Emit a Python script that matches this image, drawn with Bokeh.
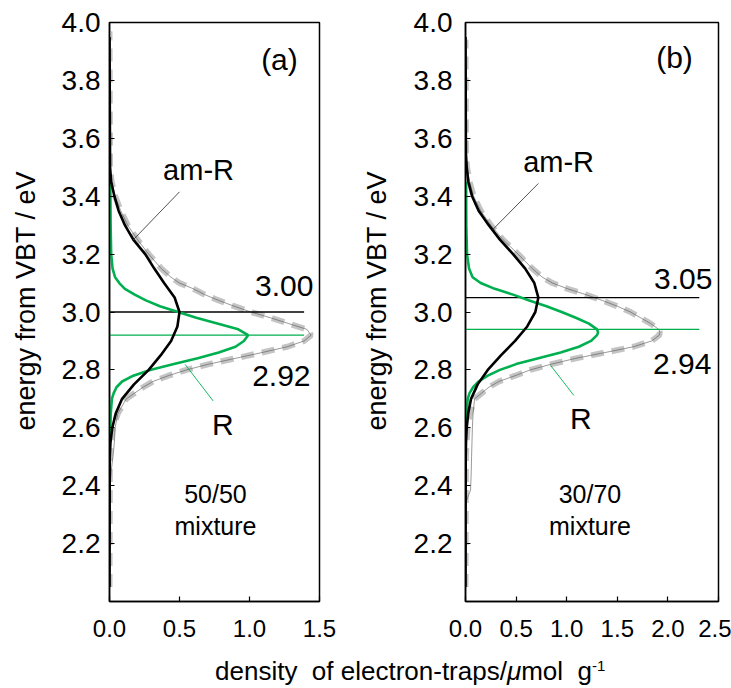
from bokeh.plotting import figure
from bokeh.layouts import row, column
from bokeh.models import FixedTicker, PrintfTickFormatter, Div, Label
from bokeh.embed import file_html
from bokeh.resources import INLINE

FONT = "Liberation Sans"
GREEN = "#00b050"
GREY = "#c4c4c4"

# ---------------- data: (a) 50/50 mixture ----------------
X_TICKS_A = [0.0, 0.5, 1.0, 1.5]
Y_TICKS = [2.2, 2.4, 2.6, 2.8, 3.0, 3.2, 3.4, 3.6, 3.8, 4.0]

# fitted total (sum of components)
SUM_A_E = [2.05, 2.50, 2.55, 2.60, 2.65, 2.70, 2.72, 2.74, 2.76, 2.78, 2.80, 2.82, 2.84,
           2.86, 2.88, 2.90, 2.92, 2.94, 2.96, 2.98, 3.00, 3.02, 3.04, 3.06, 3.08, 3.10,
           3.12, 3.15, 3.20, 3.25, 3.30, 3.35, 3.40, 3.45, 3.50, 3.97]
SUM_A_D = [0.0, 0.003, 0.01, 0.025, 0.06, 0.12, 0.18, 0.24, 0.31, 0.42, 0.55, 0.71, 0.90,
           1.09, 1.27, 1.39, 1.44, 1.41, 1.28, 1.15, 1.01, 0.89, 0.78, 0.68, 0.60, 0.50,
           0.44, 0.37, 0.28, 0.20, 0.13, 0.08, 0.04, 0.015, 0.004, 0.0]
# measured ERDT
MEAS_A_E = [2.05, 2.35, 2.40, 2.45, 2.50, 2.55, 2.60, 2.65, 2.70, 2.72, 2.74, 2.76, 2.78,
            2.80, 2.82, 2.84, 2.86, 2.88, 2.90, 2.92, 2.94, 2.96, 2.98, 3.00, 3.02, 3.04,
            3.06, 3.08, 3.10, 3.12, 3.15, 3.20, 3.25, 3.30, 3.35, 3.40, 3.45, 3.50, 3.97]
MEAS_A_D = [0.0, 0.0, 0.004, 0.012, 0.025, 0.035, 0.04, 0.06, 0.12, 0.18, 0.24, 0.31, 0.42,
            0.55, 0.71, 0.90, 1.09, 1.27, 1.39, 1.44, 1.41, 1.28, 1.15, 1.01, 0.89, 0.78,
            0.68, 0.60, 0.50, 0.44, 0.37, 0.28, 0.20, 0.13, 0.08, 0.04, 0.015, 0.004, 0.0]
# am-R component
AMR_A_E = [2.05, 2.50, 2.55, 2.60, 2.65, 2.70, 2.75, 2.80, 2.85, 2.90, 2.95, 3.00, 3.05,
           3.10, 3.15, 3.20, 3.25, 3.30, 3.35, 3.40, 3.45, 3.50, 3.95]
AMR_A_D = [0.0, 0.002, 0.007, 0.02, 0.045, 0.09, 0.175, 0.28, 0.365, 0.44, 0.485, 0.50, 0.465,
           0.39, 0.32, 0.255, 0.17, 0.11, 0.065, 0.035, 0.012, 0.004, 0.0]
# R component
R_A_E = [2.57, 2.60, 2.65, 2.70, 2.72, 2.74, 2.76, 2.78, 2.80, 2.82, 2.84, 2.86, 2.88, 2.90,
         2.92, 2.94, 2.96, 2.98, 3.00, 3.02, 3.04, 3.06, 3.08, 3.10, 3.12, 3.15, 3.20, 3.30, 3.45]
R_A_D = [0.004, 0.006, 0.009, 0.017, 0.03, 0.05, 0.09, 0.17, 0.29, 0.46, 0.63, 0.78, 0.90, 0.96,
         0.99, 0.92, 0.77, 0.62, 0.49, 0.36, 0.26, 0.18, 0.11, 0.07, 0.04, 0.022, 0.012, 0.008, 0.006]
PEAK_AMR_A = 3.00
PEAK_R_A = 2.92

# ---------------- data: (b) 30/70 mixture ----------------
X_TICKS_B = [0.0, 0.5, 1.0, 1.5, 2.0, 2.5]

SUM_B_E = [2.05, 2.50, 2.55, 2.60, 2.65, 2.70, 2.72, 2.74, 2.76, 2.78, 2.80, 2.82, 2.84,
           2.86, 2.88, 2.90, 2.92, 2.93, 2.94, 2.96, 2.98, 3.00, 3.02, 3.04, 3.06, 3.08,
           3.10, 3.12, 3.15, 3.20, 3.25, 3.30, 3.35, 3.40, 3.45, 3.50, 3.55, 3.94]
SUM_B_D = [0.0, 0.004, 0.01, 0.02, 0.045, 0.09, 0.16, 0.23, 0.33, 0.49, 0.64, 0.85, 1.09,
           1.38, 1.66, 1.84, 1.915, 1.92, 1.91, 1.83, 1.73, 1.63, 1.50, 1.35, 1.19, 1.01,
           0.86, 0.76, 0.66, 0.52, 0.37, 0.25, 0.15, 0.08, 0.04, 0.015, 0.005, 0.0]
MEAS_B_E = [2.05, 2.34, 2.385, 2.45, 2.50, 2.55, 2.60, 2.65, 2.70, 2.72, 2.74, 2.76, 2.78,
            2.80, 2.82, 2.84, 2.86, 2.88, 2.90, 2.92, 2.93, 2.94, 2.96, 2.98, 3.00, 3.02,
            3.04, 3.06, 3.08, 3.10, 3.12, 3.15, 3.20, 3.25, 3.30, 3.35, 3.40, 3.45, 3.50,
            3.55, 3.94]
MEAS_B_D = [0.0, 0.0, 0.05, 0.057, 0.06, 0.064, 0.068, 0.075, 0.09, 0.16, 0.23, 0.33, 0.49,
            0.64, 0.85, 1.09, 1.38, 1.66, 1.84, 1.915, 1.92, 1.91, 1.83, 1.73, 1.63, 1.50,
            1.35, 1.19, 1.01, 0.86, 0.76, 0.66, 0.52, 0.37, 0.25, 0.15, 0.08, 0.04, 0.015,
            0.005, 0.0]
AMR_B_E = [2.05, 2.50, 2.55, 2.60, 2.65, 2.70, 2.75, 2.80, 2.85, 2.90, 2.95, 3.00, 3.05,
           3.10, 3.15, 3.20, 3.25, 3.30, 3.35, 3.40, 3.45, 3.50, 3.55, 3.95]
AMR_B_D = [0.0, 0.002, 0.005, 0.012, 0.027, 0.055, 0.12, 0.22, 0.35, 0.49, 0.61, 0.69, 0.72,
           0.68, 0.59, 0.47, 0.34, 0.23, 0.13, 0.065, 0.028, 0.012, 0.004, 0.0]
R_B_E = [2.60, 2.65, 2.70, 2.72, 2.74, 2.76, 2.78, 2.80, 2.82, 2.84, 2.86, 2.88, 2.90, 2.92,
         2.93, 2.94, 2.96, 2.98, 3.00, 3.02, 3.04, 3.06, 3.08, 3.10, 3.12, 3.15, 3.20, 3.30, 3.45]
R_B_D = [0.005, 0.01, 0.022, 0.04, 0.075, 0.13, 0.22, 0.34, 0.50, 0.72, 0.94, 1.12, 1.24, 1.30,
         1.31, 1.30, 1.22, 1.09, 0.95, 0.80, 0.63, 0.47, 0.29, 0.15, 0.07, 0.035, 0.015, 0.008, 0.006]
PEAK_AMR_B = 3.05
PEAK_R_B = 2.94

Y_TITLE = "energy from VBT / eV"


def panel(width, border_left, border_right, xmax, xticks, tick_standoff, label_standoff):
    p = figure(width=width, height=648, x_range=(0, xmax), y_range=(2.0, 4.0),
               output_backend="svg", toolbar_location=None,
               min_border_left=border_left, min_border_right=border_right,
               min_border_top=22, min_border_bottom=47)
    p.xgrid.visible = False
    p.ygrid.visible = False
    p.outline_line_color = "black"
    p.outline_line_width = 1.5
    p.outline_line_alpha = 1.0
    for ax in (p.xaxis, p.yaxis):
        ax.axis_line_color = "black"
        ax.axis_line_width = 1.5
        ax.major_tick_line_color = "black"
        ax.major_tick_line_width = 1.2
        ax.major_tick_in = 5
        ax.major_tick_out = 0
        ax.minor_tick_line_color = None
        ax.major_label_text_font = FONT
        ax.major_label_text_color = "black"
        ax.formatter = PrintfTickFormatter(format="%.1f")
    p.xaxis.major_label_text_font_size = "24px"
    p.yaxis.major_label_text_font_size = "28px"
    p.xaxis.ticker = FixedTicker(ticks=xticks)
    p.yaxis.ticker = FixedTicker(ticks=Y_TICKS)
    p.xaxis.major_label_standoff = 18
    p.yaxis.major_label_standoff = tick_standoff
    # leading no-break spaces lift the title slightly above the frame centre
    p.yaxis.axis_label = "\u00a0\u00a0\u00a0" + Y_TITLE
    p.yaxis.axis_label_text_font = FONT
    p.yaxis.axis_label_text_font_size = "27px"
    p.yaxis.axis_label_text_font_style = "normal"
    p.yaxis.axis_label_text_color = "black"
    p.yaxis.axis_label_standoff = label_standoff
    return p


def draw(p, sum_e, sum_d, meas_e, meas_d, amr_e, amr_d, r_e, r_d,
         peak_amr, peak_r, line_end):
    p.line(sum_d, sum_e, line_color=GREY, line_width=6, line_dash="13 8")
    p.line(meas_d, meas_e, line_color="#555555", line_width=0.6)
    p.line([0, line_end], [peak_amr, peak_amr], line_color="black", line_width=1.3)
    p.line([0, line_end], [peak_r, peak_r], line_color=GREEN, line_width=1.3)
    p.line(r_d, r_e, line_color=GREEN, line_width=2.6)
    p.line(amr_d, amr_e, line_color="black", line_width=2.6)


def label(p, x, y, text, size, align="center"):
    p.add_layout(Label(x=x, y=y + 0.038, text=text, text_font=FONT, text_font_size=size,
                       text_align=align, text_baseline="alphabetic", text_color="black"))


# ---- panel (a)
pa = panel(345, 109, 26, 1.5, X_TICKS_A, 9, 18)
draw(pa, SUM_A_E, SUM_A_D, MEAS_A_E, MEAS_A_D, AMR_A_E, AMR_A_D, R_A_E, R_A_D,
     PEAK_AMR_A, PEAK_R_A, 1.39)
pa.line([0.50, 0.165], [3.415, 3.247], line_color="#404040", line_width=0.9)
pa.line([0.54, 0.74], [2.819, 2.693], line_color=GREEN, line_width=0.9)
label(pa, 1.214, 3.835, "(a)", "30px")
label(pa, 0.636, 3.451, "am-R", "29px")
label(pa, 1.457, 3.052, f"{PEAK_AMR_A:.2f}", "30px", "right")
label(pa, 1.436, 2.740, f"{PEAK_R_A:.2f}", "30px", "right")
label(pa, 0.81, 2.573, "R", "30px")
label(pa, 0.757, 2.333, "50/50", "25px")
label(pa, 0.757, 2.222, "mixture", "25px")

# ---- panel (b)
pb = panel(386, 120, 13, 2.5, X_TICKS_B, 13, 19)
draw(pb, SUM_B_E, SUM_B_D, MEAS_B_E, MEAS_B_D, AMR_B_E, AMR_B_D, R_B_E, R_B_D,
     PEAK_AMR_B, PEAK_R_B, 2.31)
pb.line([0.72, 0.27], [3.444, 3.285], line_color="#404040", line_width=0.9)
pb.line([0.84, 1.07], [2.816, 2.712], line_color=GREEN, line_width=0.9)
label(pb, 2.065, 3.84, "(b)", "30px")
label(pb, 0.92, 3.479, "am-R", "29px")
label(pb, 2.44, 3.076, f"{PEAK_AMR_B:.2f}", "30px", "right")
label(pb, 2.43, 2.781, f"{PEAK_R_B:.2f}", "30px", "right")
label(pb, 1.14, 2.594, "R", "30px")
label(pb, 1.23, 2.333, "30/70", "25px")
label(pb, 1.23, 2.222, "mixture", "25px")

xlabel = Div(
    text=('<div style="position:absolute; left:210px; top:4px; white-space:nowrap; '
          'line-height:1.1; font-family:\'Liberation Sans\'; font-size:26px; color:black;">'
          'density&nbsp; of electron-traps/<i>&mu;</i>mol&nbsp; g'
          '<span style="font-size:15px; vertical-align:9px">-1</span></div>'),
    width=731, height=40)

layout = column(row(pa, pb), xlabel)

open("out.html", "w").write(file_html(layout, INLINE))
